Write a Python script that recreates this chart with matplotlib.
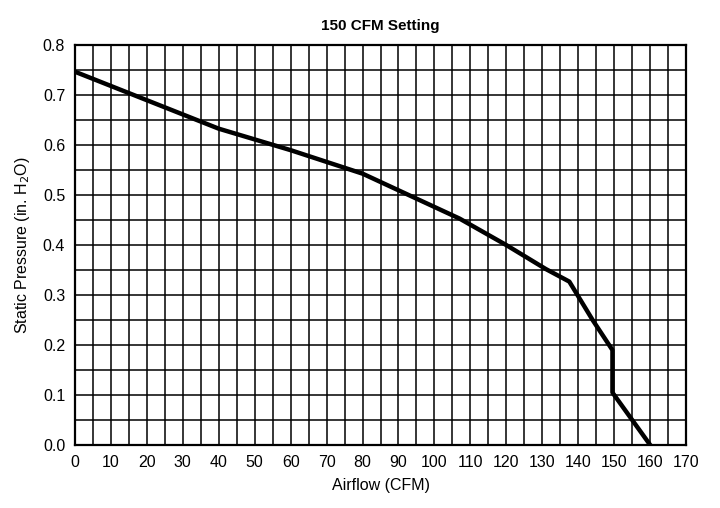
import numpy as np
import matplotlib
matplotlib.use('Agg')
import matplotlib.pyplot as plt

plt.rcParams['font.family'] = ['Liberation Sans', 'DejaVu Sans']

# fan curve
airflow = [0, 20, 40, 60, 80, 95, 107, 120, 131, 137.5, 144, 149.5, 149.5, 160]
pressure = [0.747, 0.69, 0.633, 0.59, 0.543, 0.493, 0.453, 0.40, 0.352, 0.327, 0.25, 0.19, 0.105, 0.0]

x_ticks = np.arange(0, 171, 10)
y_ticks = [0.0, 0.1, 0.2, 0.3, 0.4, 0.5, 0.6, 0.7, 0.8]

fig = plt.figure(figsize=(7.2, 5.08), dpi=100)
ax = fig.add_axes([0.104, 0.124, 0.849, 0.787])

# grid every 5 CFM and every 0.05 in.
ax.set_xticks(np.arange(0, 171, 5), minor=True)
ax.set_yticks(np.arange(0, 0.81, 0.05), minor=True)
ax.grid(which='both', color='black', linewidth=1.1)
ax.set_axisbelow(True)

ax.plot(airflow, pressure, color='black', linewidth=3.2, solid_joinstyle='round')

ax.set_xlim(0, 170)
ax.set_ylim(0, 0.8)
ax.set_xticks(x_ticks)
ax.set_yticks(y_ticks)
ax.set_yticklabels(['%.1f' % v for v in y_ticks])
ax.tick_params(which='both', length=0, labelsize=11.5, pad=7)
for s in ax.spines.values():
    s.set_linewidth(1.6)

ax.set_title('150 CFM Setting', fontsize=11, fontweight='bold', pad=11)
ax.set_xlabel('Airflow (CFM)', fontsize=11.5, labelpad=6)
ax.set_ylabel('Static Pressure (in. H$_2$O)', fontsize=11.5, labelpad=8)

fig.savefig('out.png', dpi=100)
